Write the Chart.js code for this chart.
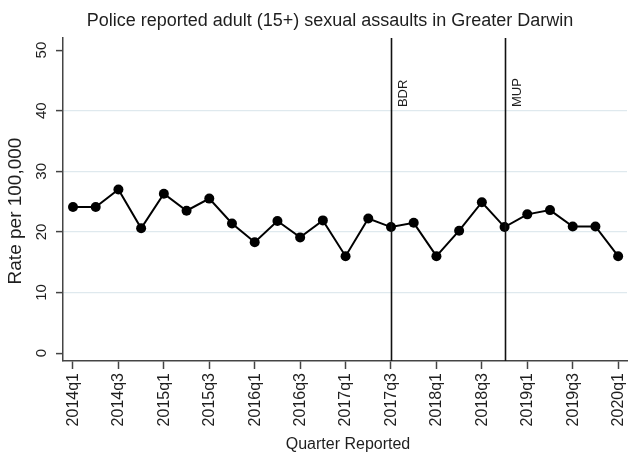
<!DOCTYPE html>
<html>
<head>
<meta charset="utf-8">
<script src="https://cdn.jsdelivr.net/npm/chart.js@4/dist/chart.umd.min.js"></script>
<style>
  html, body { margin: 0; padding: 0; background: #fff; }
  #wrap { width: 632px; height: 452px; }
</style>
</head>
<body>
<div id="wrap"><canvas id="c" width="632" height="452"></canvas></div>
<script>
// Quarterly police-reported adult sexual assault rates, Greater Darwin
const quarters = ['2014q1','2014q2','2014q3','2014q4','2015q1','2015q2','2015q3','2015q4',
                  '2016q1','2016q2','2016q3','2016q4','2017q1','2017q2','2017q3','2017q4',
                  '2018q1','2018q2','2018q3','2018q4','2019q1','2019q2','2019q3','2019q4','2020q1'];
const rates = [24.1, 24.1, 27.0, 20.6, 26.3, 23.5, 25.5, 21.4,
               18.3, 21.8, 19.1, 21.9, 16.0, 22.2, 20.8, 21.5,
               16.0, 20.2, 24.9, 20.8, 22.9, 23.6, 20.9, 20.9, 16.0];
// Policy events marked with vertical reference lines
const eventQuarters = ['2017q3', '2018q4'];
const eventLabels = ['BDR', 'MUP'];
const yTicks = [0, 10, 20, 30, 40, 50];
const xTickQuarters = quarters.filter((q, i) => i % 2 === 0);

const titleText = 'Police reported adult (15+) sexual assaults in Greater Darwin';
const xTitleText = 'Quarter Reported';
const yTitleText = 'Rate per 100,000';

const FONT = "'Liberation Sans', Arial, sans-serif";
const INK = '#1e1e1e';

function vText(ctx, text, x, y, align) {
  ctx.save();
  ctx.translate(x, y);
  ctx.rotate(-Math.PI / 2);
  ctx.textAlign = align;
  ctx.textBaseline = 'middle';
  ctx.fillText(text, 0, 0);
  ctx.restore();
}

// Event lines plus all text (titles and rotated tick labels), placed via the scales
const annotate = {
  id: 'annotate',
  afterDatasetsDraw(chart) {
    const { ctx, chartArea, scales } = chart;
    const xs = scales.x, ys = scales.y;
    ctx.save();
    eventQuarters.forEach((q, k) => {
      const x = Math.round(xs.getPixelForValue(quarters.indexOf(q))) + 0.5;
      ctx.strokeStyle = '#111';
      ctx.lineWidth = 1.6;
      ctx.beginPath();
      ctx.moveTo(x, chartArea.top);
      ctx.lineTo(x, chartArea.bottom);
      ctx.stroke();
      ctx.fillStyle = INK;
      ctx.font = '13px ' + FONT;
      vText(ctx, eventLabels[k], x + 12, ys.getPixelForValue(40.6), 'left');
    });
    ctx.restore();
  },
  afterDraw(chart) {
    const { ctx, chartArea, scales } = chart;
    const xs = scales.x, ys = scales.y;
    ctx.save();
    ctx.fillStyle = INK;

    // main title
    ctx.font = '18px ' + FONT;
    ctx.textAlign = 'center';
    ctx.textBaseline = 'alphabetic';
    ctx.fillText(titleText, 330, 26);

    // y tick labels
    ctx.font = '15px ' + FONT;
    yTicks.forEach(v => vText(ctx, String(v), chartArea.left - 21, ys.getPixelForValue(v), 'center'));

    // y axis title
    ctx.font = '19px ' + FONT;
    vText(ctx, yTitleText, 16, 211, 'center');

    // x tick labels
    ctx.font = '16px ' + FONT;
    xTickQuarters.forEach(q => vText(ctx, q, xs.getPixelForValue(quarters.indexOf(q)) + 0.5, chartArea.bottom + 12, 'right'));

    // x axis title
    ctx.font = '16px ' + FONT;
    ctx.textAlign = 'center';
    ctx.textBaseline = 'alphabetic';
    ctx.fillText(xTitleText, 348, 449);
    ctx.restore();
  }
};

new Chart(document.getElementById('c'), {
  type: 'line',
  data: {
    datasets: [{
      data: rates.map((v, i) => ({ x: i, y: v })),
      borderColor: '#000',
      borderWidth: 2,
      backgroundColor: '#000',
      pointRadius: 5,
      pointHoverRadius: 5,
      pointBackgroundColor: '#000',
      pointBorderWidth: 0,
      tension: 0
    }]
  },
  options: {
    responsive: false,
    animation: false,
    layout: { padding: { top: 38, right: 0, left: 56, bottom: 83 } },
    plugins: {
      legend: { display: false },
      tooltip: { enabled: false },
      title: { display: false }
    },
    scales: {
      x: {
        type: 'linear',
        min: -0.44,
        max: 24.39,
        afterBuildTicks(scale) {
          scale.ticks = xTickQuarters.map(q => ({ value: quarters.indexOf(q) }));
        },
        ticks: { display: false },
        grid: { drawOnChartArea: false, drawTicks: true, tickLength: 8, tickColor: '#444', tickWidth: 1.5 },
        border: { display: true, color: '#444', width: 1.5 }
      },
      y: {
        min: -1.3,
        max: 52,
        afterBuildTicks(scale) {
          scale.ticks = yTicks.map(v => ({ value: v }));
        },
        ticks: { display: false },
        grid: {
          drawOnChartArea: true,
          color: (c) => (c.tick && (c.tick.value === 0 || c.tick.value === 50)) ? 'rgba(0,0,0,0)' : '#dfe9ee',
          lineWidth: 1.2,
          tickLength: 7,
          tickColor: '#444',
          tickWidth: 1.5
        },
        border: { display: true, color: '#444', width: 1.5 }
      }
    }
  },
  plugins: [annotate]
});
</script>
</body>
</html>
